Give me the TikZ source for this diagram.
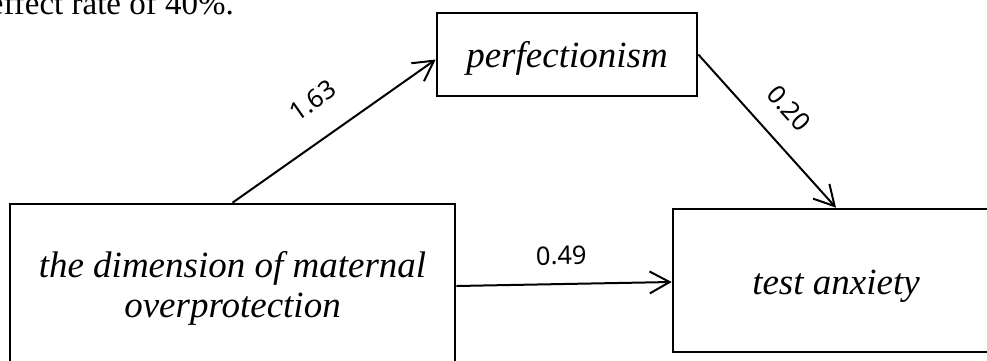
\documentclass[tikz,border=0pt]{standalone}
\usepackage{fontspec}
\setmainfont{Liberation Serif}
\newfontfamily\coeffont{Noto Sans}
\usetikzlibrary{arrows.meta,positioning}

\begin{document}
\begin{tikzpicture}[
  x=1pt,y=1pt,
  factor/.style={
    draw,
    line width=2.6pt,
    align=center,
    inner sep=0pt,
    font=\fontsize{37}{40}\selectfont\itshape
  },
  coef/.style={
    sloped,
    inner sep=0pt,
    font=\fontsize{25.5}{30}\selectfont\coeffont
  },
  arrow/.style={-{Straight Barb[length=20pt,width=22pt]},line width=2pt}
]
  \useasboundingbox (0,0) rectangle (987,360);
  \clip (0,0) rectangle (987,360);
  \node[anchor=base east,inner sep=0pt,font=\fontsize{33}{40}\selectfont] (prev) at (234,346) {effect rate of 40\%.};
  \node[factor,minimum width=445pt,minimum height=168pt] (mop) at (232.5,72) {the dimension of maternal\\overprotection};
  \node[factor,minimum width=260pt,minimum height=83pt,text height=25pt,text depth=0pt] (perf) at (567,305.5) {perfectionism};
  \node[factor,minimum width=326pt,minimum height=143pt,text height=28pt,text depth=0pt] (anx) at (836,79.5) {test anxiety};
  \draw[arrow] (mop.north) -- node[coef,pos=0.5,above=27pt] {1.63} ([yshift=-5pt]perf.west);
  \draw[arrow] (perf.east) -- node[coef,pos=0.49,above=21pt] {0.20} (anx.north);
  \draw[arrow] ([yshift=2pt]mop.east) -- node[coef,pos=0.49,above=18pt] {0.49} ([yshift=-1.5pt]anx.west);
\end{tikzpicture}
\end{document}
